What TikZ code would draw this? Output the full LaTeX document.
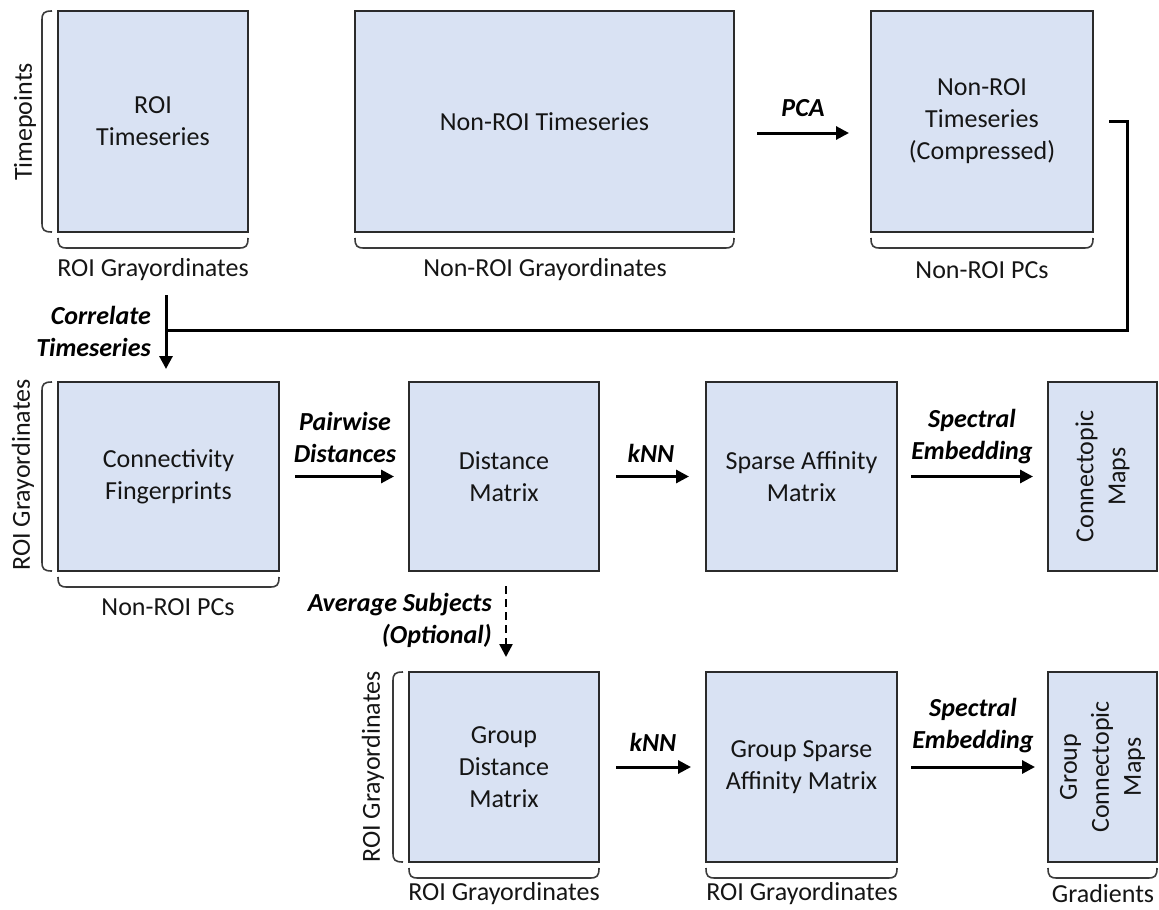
\documentclass[tikz,border=0pt]{standalone}
\usepackage{fontspec}
\setmainfont{Carlito}
\usetikzlibrary{arrows.meta}
\definecolor{boxf}{HTML}{D9E2F3}
\definecolor{boxc}{HTML}{2B2B2B}
\definecolor{txt}{HTML}{151515}
\definecolor{brcc}{HTML}{3A3A3A}
\newcommand{\hbr}[3]{\draw[brc] (#1,#3) .. controls (#1,#3+8) and (#1+2,#3+10) .. (#1+9,#3+10) -- (#2-9,#3+10) .. controls (#2-2,#3+10) and (#2,#3+8) .. (#2,#3);}
\newcommand{\vbr}[3]{\draw[brc] (#1,#2) .. controls (#1-8,#2) and (#1-10,#2+2) .. (#1-10,#2+9) -- (#1-10,#3-9) .. controls (#1-10,#3-2) and (#1-8,#3) .. (#1,#3);}
\begin{document}
\begin{tikzpicture}[x=1pt,y=-1pt,
  mbox/.style={draw=boxc, fill=boxf, line width=2pt, inner sep=0pt, align=center, text=txt, font=\fontsize{26}{32}\selectfont},
  lab/.style={align=center, text=txt, inner sep=0pt, font=\fontsize{26}{32}\selectfont},
  op/.style={align=center, text=black, inner sep=0pt, font=\fontsize{26}{32}\selectfont\bfseries\itshape},
  arr/.style={line width=3pt, -{Triangle[length=13pt,width=13pt]}},
  conn/.style={line width=3pt, line join=miter},
  brc/.style={line width=1.6pt, draw=brcc}]
\useasboundingbox (0,0) rectangle (1159,910);
\clip (0,0) rectangle (1159,910);

% row 1
\node[mbox, minimum width=190pt, minimum height=221pt] (roi) at (153,121.5) {ROI\\Timeseries};
\node[mbox, minimum width=379pt, minimum height=221pt] (nonroi) at (544.5,121.5) {Non-ROI Timeseries};
\node[mbox, minimum width=222pt, minimum height=221pt] (comp) at (982,121.5) {Non-ROI\\Timeseries\\(Compressed)};

% row 2
\node[mbox, minimum width=221pt, minimum height=189pt] (fp) at (168.5,476.5) {Connectivity\\Fingerprints};
\node[mbox, minimum width=190pt, minimum height=189pt] (dm) at (504,476.5) {Distance\\Matrix};
\node[mbox, minimum width=191pt, minimum height=189pt] (sa) at (801.5,476.5) {Sparse Affinity\\Matrix};
\node[mbox, minimum width=109pt, minimum height=189pt] (cm) at (1102.5,476.5) {};
\node[lab, rotate=90] (cmt) at (cm.center) {Connectopic\\Maps};

% row 3
\node[mbox, minimum width=190pt, minimum height=190pt] (gdm) at (504,767) {Group\\Distance\\Matrix};
\node[mbox, minimum width=191pt, minimum height=190pt] (gsa) at (801.5,767) {Group Sparse\\Affinity Matrix};
\node[mbox, minimum width=109pt, minimum height=190pt] (gcm) at (1102.5,767) {};
\node[lab, rotate=90] (gcmt) at (gcm.center) {Group\\Connectopic\\Maps};

% braces
\vbr{52}{11}{232}
\hbr{58}{248}{238}
\hbr{355}{734}{238}
\hbr{871}{1093}{238}
\vbr{52}{382}{571}
\hbr{58}{279}{577}
\vbr{403}{672}{862}
\hbr{409}{599}{868}
\hbr{706}{897}{868}
\hbr{1048}{1157}{868}

% axis labels
\node[lab, rotate=90] (tp) at (25,122) {Timepoints};
\node[lab] (l1) at (153,270) {ROI Grayordinates};
\node[lab] (l2) at (545,270) {Non-ROI Grayordinates};
\node[lab] (l3) at (982,270) {Non-ROI PCs};
\node[lab, rotate=90] (l4) at (23,475) {ROI Grayordinates};
\node[lab] (l5) at (168,607) {Non-ROI PCs};
\node[lab, rotate=90] (l6) at (373,767) {ROI Grayordinates};
\node[lab] (l7) at (504,894) {ROI Grayordinates};
\node[lab] (l8) at (802,894) {ROI Grayordinates};
\node[lab] (l9) at (1103,894) {Gradients};

% operation labels
\node[op] (pca) at (803,108) {PCA};
\node[op, anchor=east, align=right] (corr) at (151,331) {Correlate\\Timeseries};
\node[op] (pw) at (345,437.5) {Pairwise\\Distances};
\node[op] (knn1) at (651,453) {kNN};
\node[op] (se1) at (972,436.5) {Spectral\\Embedding};
\node[op, anchor=east, align=right] (avg) at (492,620) {Average Subjects\\(Optional)};
\node[op] (knn2) at (653,742) {kNN};
\node[op] (se2) at (973,726) {Spectral\\Embedding};

% connectors
\draw[arr, shorten <=22pt, shorten >=21pt] ([yshift=-11.5pt]nonroi.east) -- ([yshift=-11.5pt]comp.west);
\draw[arr, shorten <=15pt, shorten >=14pt] (fp.east) -- (dm.west);
\draw[arr, shorten <=16pt, shorten >=16pt] (dm.east) -- (sa.west);
\draw[arr, shorten <=13pt, shorten >=14pt] (sa.east) -- (cm.west);
\draw[arr, shorten <=16pt, shorten >=14pt] (gdm.east) -- (gsa.west);
\draw[arr, shorten <=13pt, shorten >=12pt] (gsa.east) -- (gcm.west);
\draw[arr, dash pattern=on 8pt off 5pt, line width=2.5pt, shorten <=14pt, shorten >=14pt] ([xshift=2pt]dm.south) -- ([xshift=2pt]gdm.north);

\coordinate (vtop) at (166,295);
\coordinate (cr) at (1127,330);
\draw[conn] ([xshift=15pt]comp.east) -| (cr) -- (vtop |- cr);
\draw[arr, shorten >=12pt] (vtop) -- (vtop |- fp.north);
\end{tikzpicture}
\end{document}
